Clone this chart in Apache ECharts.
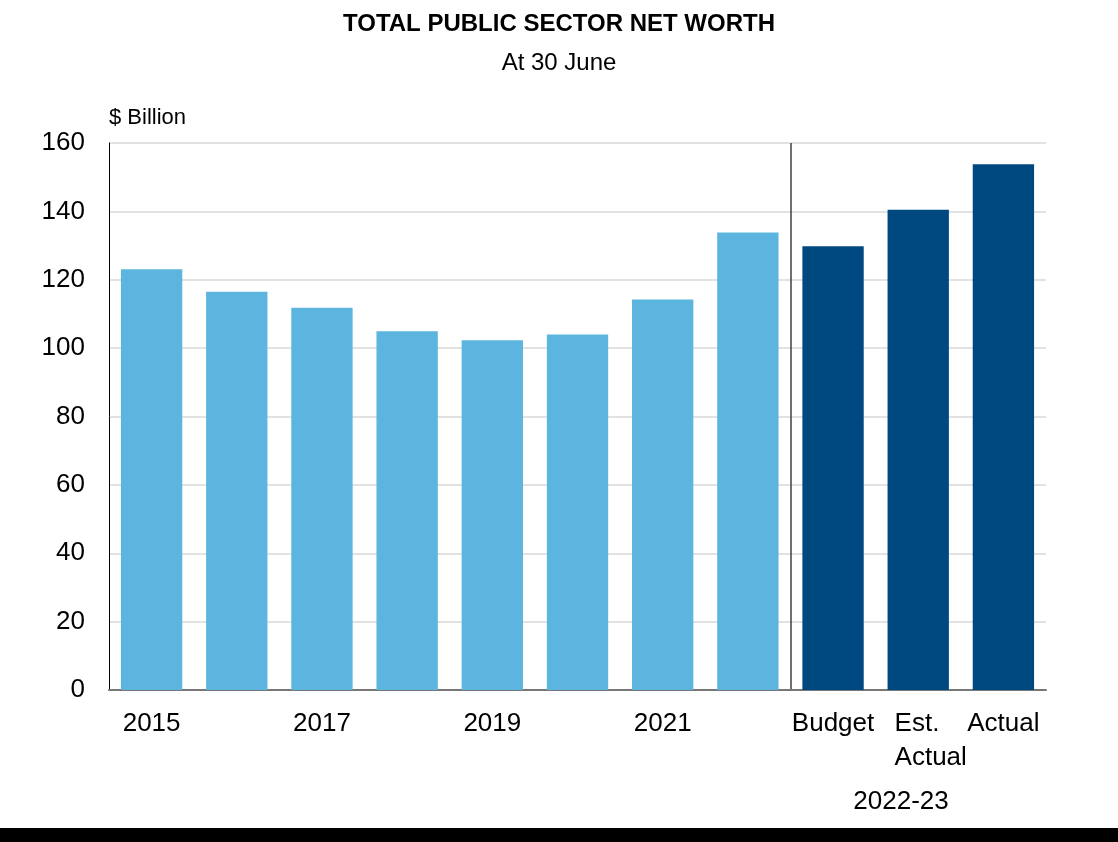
<!DOCTYPE html>
<html>
<head>
<meta charset="utf-8">
<script src="https://cdn.jsdelivr.net/npm/echarts@6/dist/echarts.min.js"></script>
<style>
  html, body { margin: 0; padding: 0; background: #ffffff; }
  #chart { width: 1118px; height: 842px; }
</style>
</head>
<body>
<div id="chart"></div>
<script>
// ---- data ----
const categories = ['2015', '2016', '2017', '2018', '2019', '2020', '2021', '2022', 'Budget', 'Est.\nActual', 'Actual'];
const historicValues = [123.1, 116.5, 111.8, 104.9, 102.3, 104.0, 114.2, 133.8];
const budgetValues = [129.8, 140.5, 153.8];
const yTicks = { min: 0, max: 160, interval: 20 };
const groupLabel = '2022-23';

const lightBlue = '#5BB5DF';
const darkBlue = '#004880';
const font = '"Liberation Sans", Arial, sans-serif';

const seriesData = historicValues.map(v => ({ value: v, itemStyle: { color: lightBlue } }))
  .concat(budgetValues.map(v => ({ value: v, itemStyle: { color: darkBlue } })));

const shownLabels = new Set(['2015', '2017', '2019', '2021', 'Budget', 'Est.\nActual', 'Actual']);
const firstBudget = categories[historicValues.length];

const chart = echarts.init(document.getElementById('chart'), null, { renderer: 'canvas' });
chart.setOption({
  backgroundColor: '#ffffff',
  animation: false,
  title: [
    {
      text: 'TOTAL PUBLIC SECTOR NET WORTH',
      left: 'center', top: 7,
      textStyle: { fontFamily: font, fontSize: 24, fontWeight: 'bold', color: '#000' }
    },
    {
      text: 'At 30 June',
      left: 'center', top: 46,
      textStyle: { fontFamily: font, fontSize: 24, fontWeight: 'normal', color: '#000' }
    }
  ],
  grid: { left: 109, right: 72, top: 143, bottom: 152, containLabel: false },
  xAxis: {
    type: 'category',
    data: categories,
    boundaryGap: true,
    axisLine: { show: true, lineStyle: { color: '#777777', width: 2 } },
    axisTick: { show: false },
    axisLabel: {
      interval: (idx, val) => shownLabels.has(val),
      margin: 17,
      color: '#000',
      fontFamily: font,
      fontSize: 26,
      lineHeight: 34,
      formatter: (val) => val.indexOf('\n') >= 0
        ? val.split('\n').map(s => '{l|' + s + '}').join('\n')
        : val,
      rich: { l: { align: 'left', fontFamily: font, fontSize: 26, lineHeight: 34, color: '#000', padding: [0, 0, 0, 25] } }
    },
    splitLine: {
      show: true,
      showMinLine: false,
      showMaxLine: false,
      interval: (idx, val) => idx === 0 || val === firstBudget,
      lineStyle: { color: '#404040', width: 1.5 }
    }
  },
  yAxis: {
    type: 'value',
    min: yTicks.min, max: yTicks.max, interval: yTicks.interval,
    name: '$ Billion',
    nameLocation: 'end',
    nameGap: 14,
    nameTextStyle: { fontFamily: font, fontSize: 22, color: '#000', align: 'left', verticalAlign: 'bottom' },
    axisLine: { show: true, lineStyle: { color: '#000000', width: 1 } },
    axisTick: { show: false },
    axisLabel: { margin: 24, color: '#000', fontFamily: font, fontSize: 26, padding: [0, 0, 8, 0] },
    splitLine: { show: true, lineStyle: { color: '#d9d9d9', width: 1.5 } }
  },
  series: [{
    type: 'bar',
    data: seriesData,
    barCategoryGap: '28%',
    z: 1
  }],
  graphic: [
    {
      type: 'text',
      x: 901, y: 802,
      style: { text: groupLabel, fill: '#000', font: '26px ' + font, textAlign: 'center', textVerticalAlign: 'middle' }
    },
    {
      type: 'rect',
      left: 0, bottom: 0,
      shape: { width: 1118, height: 14 },
      style: { fill: '#000000' }
    }
  ]
});
</script>
</body>
</html>
